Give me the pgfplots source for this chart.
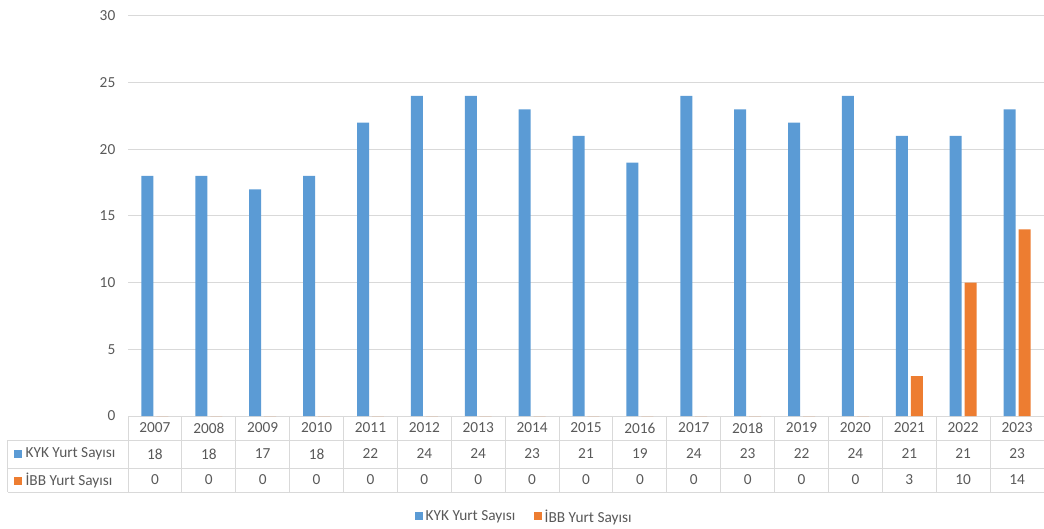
\documentclass[border=0pt]{standalone}
\usepackage{fontspec}
\setmainfont{Carlito}
\usepackage{pgfplots}
\pgfplotsset{compat=1.18}
\usepackage{pgfplotstable}
\usetikzlibrary{calc}
\definecolor{kyk}{HTML}{5B9BD5}
\definecolor{ibb}{HTML}{ED7D31}
\definecolor{txt}{HTML}{595959}
\definecolor{grd}{HTML}{D9D9D9}

\pgfplotstableread{
x year kyk ibb
0 2007 18 0
1 2008 18 0
2 2009 17 0
3 2010 18 0
4 2011 22 0
5 2012 24 0
6 2013 24 0
7 2014 23 0
8 2015 21 0
9 2016 19 0
10 2017 24 0
11 2018 23 0
12 2019 22 0
13 2020 24 0
14 2021 21 3
15 2022 21 10
16 2023 23 14
}\data

\begin{document}
\begin{tikzpicture}[x=1pt,y=1pt,font=\fontsize{11.5}{13}\selectfont]
\useasboundingbox (0,0) rectangle (783,396);
\begin{axis}[
  at={(96pt,84pt)}, anchor=south west,
  scale only axis, width=687pt, height=300pt,
  xmin=-0.5, xmax=16.5, ymin=0, ymax=30,
  clip=false,
  axis x line*=bottom, axis y line*=left,
  y axis line style={draw=none},
  x axis line style={draw=grd, line width=0.75pt},
  major tick length=0pt,
  xtick style={draw=none}, ytick style={draw=none},
  ymajorgrids, grid style={grd, line width=0.75pt},
  ytick={0,5,...,30},
  yticklabel={\pgfmathprintnumber[assume math mode=true]{\tick}},
  yticklabel style={text=txt, font=\fontsize{11.5}{13}\selectfont, xshift=-6pt},
  xtick=data,
  xticklabels from table={\data}{year},
  xticklabel style={text=txt, font=\fontsize{11.5}{13}\selectfont, anchor=center, yshift=-9pt},
  legend style={at={(0.433,-0.2525)}, anchor=center, draw=none, legend columns=2,
    font=\fontsize{11.5}{13}\selectfont, text=txt,
    /tikz/every even column/.append style={column sep=12pt}},
  legend image code/.code={\fill[#1] (0pt,-2.5pt) rectangle (6pt,3.5pt);},
]
\addplot[ybar, bar width=9pt, bar shift=-5.6pt, fill=kyk, draw=none] table[x=x,y=kyk]{\data};
\addplot[ybar, bar width=9pt, bar shift=5.6pt, fill=ibb, draw=none] table[x=x,y=ibb]{\data};
\legend{KYK Yurt Sayısı, İBB Yurt Sayısı}
\addplot[forget plot, only marks, mark=none, nodes near coords, point meta=explicit symbolic,
  every node near coord/.append style={anchor=center, yshift=-28.5pt, text=txt, font=\fontsize{11.5}{13}\selectfont}]
  table[x=x, y expr=0, meta=kyk]{\data};
\addplot[forget plot, only marks, mark=none, nodes near coords, point meta=explicit symbolic,
  every node near coord/.append style={anchor=center, yshift=-48pt, text=txt, font=\fontsize{11.5}{13}\selectfont}]
  table[x=x, y expr=0, meta=ibb]{\data};
\pgfplotsinvokeforeach{0,...,17}{
  \draw[grd, line width=0.75pt] (axis cs:#1-0.5,0) -- ++(0pt,-57pt);
}
\draw[grd, line width=0.75pt] ($(rel axis cs:0,0)+(-90pt,-18pt)$) -- ($(rel axis cs:1,0)+(0pt,-18pt)$);
\draw[grd, line width=0.75pt] ($(rel axis cs:0,0)+(-90pt,-39pt)$) -- ($(rel axis cs:1,0)+(0pt,-39pt)$);
\draw[grd, line width=0.75pt] ($(rel axis cs:0,0)+(-90pt,-57pt)$) -- ($(rel axis cs:1,0)+(0pt,-57pt)$);
\draw[grd, line width=0.75pt] ($(rel axis cs:0,0)+(-90pt,-18pt)$) -- ++(0pt,-39pt);
\node[anchor=west, text=txt, inner sep=0pt] at ($(rel axis cs:0,0)+(-85.5pt,-28.5pt)$)
  {\textcolor{kyk}{\rule{6pt}{6pt}}\kern2.5pt KYK Yurt Sayısı};
\node[anchor=west, text=txt, inner sep=0pt] at ($(rel axis cs:0,0)+(-85.5pt,-48pt)$)
  {\textcolor{ibb}{\rule{6pt}{6pt}}\kern2.5pt İBB Yurt Sayısı};
\end{axis}
\end{tikzpicture}
\end{document}
